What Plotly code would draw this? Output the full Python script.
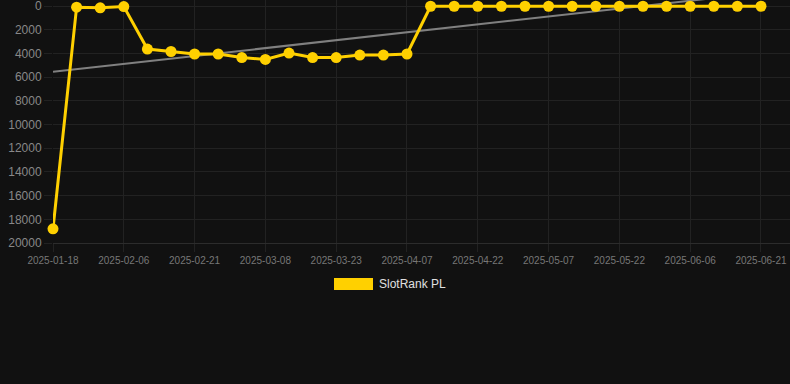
import numpy as np
import plotly.graph_objects as go

dates = [
    "2025-01-18", "2025-01-25", "2025-02-01", "2025-02-06", "2025-02-11", "2025-02-16",
    "2025-02-21", "2025-02-26", "2025-03-03", "2025-03-08", "2025-03-13", "2025-03-18",
    "2025-03-23", "2025-03-28", "2025-04-02", "2025-04-07", "2025-04-12", "2025-04-17",
    "2025-04-22", "2025-04-27", "2025-05-02", "2025-05-07", "2025-05-12", "2025-05-17",
    "2025-05-22", "2025-05-27", "2025-06-01", "2025-06-06", "2025-06-11", "2025-06-16",
    "2025-06-21",
]
rank = [
    18800, 100, 150, 50, 3630, 3840, 4050, 4050, 4350, 4510, 3970, 4350,
    4350, 4140, 4140, 4050, 20, 20, 20, 20, 20, 20, 20, 20,
    20, 20, 20, 20, 20, 20, 20,
]
tick_labels = dates[::3]
y_ticks = list(range(0, 20001, 2000))
y_tick_text = [str(v) for v in y_ticks]
series_name = "SlotRank PL"

BG = "#111111"
GRID = "#222222"
YELLOW = "#FFD000"

idx = np.arange(len(rank))
slope, intercept = np.polyfit(idx, rank, 1)
trend = slope * idx + intercept

fig = go.Figure()
fig.add_trace(go.Scatter(
    x=dates, y=trend, mode="lines",
    line=dict(color="#808080", width=2),
    showlegend=False, hoverinfo="skip",
))
fig.add_trace(go.Scatter(
    x=dates, y=rank, mode="lines+markers", name=series_name,
    line=dict(color=YELLOW, width=3),
    marker=dict(color=YELLOW, size=11),
    cliponaxis=False, showlegend=False,
))

fig.update_layout(
    width=790, height=384,
    paper_bgcolor=BG, plot_bgcolor=BG,
    margin=dict(l=53, r=0, t=0, b=141),
    font=dict(family="Liberation Sans, Arial, sans-serif"),
    xaxis=dict(
        type="category", range=[0, 31.23],
        tickmode="array", tickvals=tick_labels, ticktext=tick_labels,
        tickfont=dict(size=10, color="#777777"),
        showgrid=True, gridcolor=GRID, gridwidth=1,
        ticks="outside", ticklen=8, tickcolor=GRID,
        showline=True, linecolor="#2c2c2c", zeroline=False,
        ticklabeloverflow="allow",
    ),
    yaxis=dict(
        range=[20000, -20000 * 6 / 237], tickmode="array",
        tickvals=y_ticks, ticktext=y_tick_text,
        tickfont=dict(size=12, color="#888888"),
        showgrid=True, gridcolor=GRID, gridwidth=1,
        ticks="outside", ticklen=8, tickcolor=GRID,
        showline=False, zeroline=False,
        ticklabeloverflow="allow",
    ),
)

# Chart.js-style legend: filled box + label
fig.add_shape(
    type="rect", xref="paper", yref="paper",
    x0=(334 - 53) / 737, x1=(373 - 53) / 737,
    y0=(243 - 290) / 243, y1=(243 - 278) / 243,
    fillcolor=YELLOW, line=dict(color=YELLOW, width=0),
)
fig.add_annotation(
    xref="paper", yref="paper",
    x=(377 - 53) / 737, y=(243 - 284) / 243,
    text=series_name, showarrow=False,
    xanchor="left", yanchor="middle",
    font=dict(size=12, color="#e0e0e0"),
)

fig.write_html(
    "out.html",
    config={"displayModeBar": False},
    post_script="document.body.style.margin='0';document.body.style.background='#111111';",
)
